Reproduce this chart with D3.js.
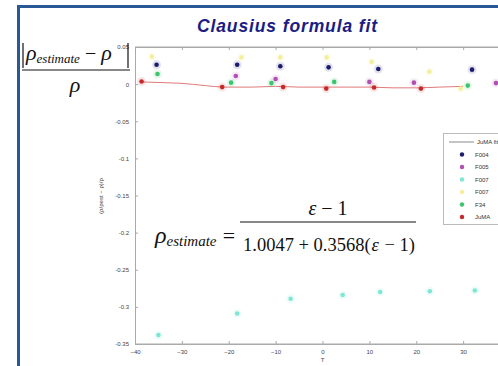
<!DOCTYPE html>
<html>
<head>
<meta charset="utf-8">
<script src="https://cdn.jsdelivr.net/npm/d3@7"></script>
<style>
  body { margin: 0; background: #fff; }
  svg { display: block; font-family: 'Liberation Sans', Arial, sans-serif; }
</style>
</head>
<body>
<div id="chart"></div>
<script>
// temperature ticks and relative error ticks
const xTicks = [-40, -30, -20, -10, 0, 10, 20, 30];
const yTicks = [0.05, 0, -0.05, -0.1, -0.15, -0.2, -0.25, -0.3, -0.35];
const yTickLabels = ['0.05', '0', '-0.05', '-0.1', '-0.15', '-0.2', '-0.25', '-0.3', '-0.35'];

// JuMA fit line
const fitT = [-38.6, -34, -30, -25, -21, -15, -10, -5, 0, 5, 10, 15, 20, 25, 30];
const fitErr = [0.003, 0.002, 0.001, -0.002, -0.004, -0.004, -0.003, -0.004, -0.004, -0.004, -0.004, -0.005, -0.005, -0.004, -0.003];

// measured series
const seriesNames = ['F004', 'F005', 'F007', 'F007', 'F34', 'JuMA'];
const seriesColors = ['#1c1c6e', '#b050b0', '#7fe6d2', '#f3ef9c', '#3cc46e', '#c42a2a'];

const tF004 = [-35.4, -18.2, -9.0, 1.3, 11.9, 31.9];
const eF004 = [0.026, 0.026, 0.024, 0.0226, 0.0204, 0.0195];

const tF005 = [-18.5, -10.0, 10.0, 19.5, 37.0];
const eF005 = [0.011, 0.007, 0.003, 0.002, 0.0014];

const tF007c = [-35.0, -18.2, -6.8, 4.3, 12.3, 22.9, 32.5];
const eF007c = [-0.338, -0.309, -0.289, -0.284, -0.280, -0.279, -0.278];

const tF007y = [-36.4, -17.3, -9.0, 0.9, 10.5, 22.8, 29.5];
const eF007y = [0.037, 0.036, 0.036, 0.036, 0.030, 0.0168, -0.006];

const tF34 = [-35.2, -19.5, -10.9, 2.5, 31.0];
const eF34 = [0.0136, 0.002, 0.0014, 0.003, -0.002];

const tJuMA = [-38.6, -21.4, -8.4, 0.8, 11.0, 21.0];
const eJuMA = [0.0035, -0.004, -0.004, -0.006, -0.0046, -0.006];

const width = 498;
const height = 366;

const x = d3.scaleLinear().domain([-40, 40]).range([135, 510]);
const y = d3.scaleLinear().domain([-0.35, 0.05]).range([344, 47]);

const svg = d3.select('#chart').append('svg')
  .attr('width', width)
  .attr('height', height);

svg.append('rect').attr('width', width).attr('height', height).attr('fill', '#fff');

// slide frame
svg.append('path')
  .attr('d', 'M18.5,370 L18.5,6.5 L505,6.5')
  .attr('fill', 'none')
  .attr('stroke', '#2a5896')
  .attr('stroke-width', 3);

// title
svg.append('text')
  .attr('x', 287).attr('y', 32)
  .attr('text-anchor', 'middle')
  .attr('textLength', 180)
  .style('font-size', '17.5px')
  .style('font-weight', 'bold')
  .style('font-style', 'italic')
  .style('fill', '#1c1c84')
  .text('Clausius formula fit');

// axes
const axisColor = '#aaa';
const frame = svg.append('g');
frame.append('line').attr('x1', x(-40)).attr('x2', width).attr('y1', y(-0.35)).attr('y2', y(-0.35)).attr('stroke', axisColor);
frame.append('line').attr('x1', x(-40)).attr('x2', width).attr('y1', y(0.05)).attr('y2', y(0.05)).attr('stroke', axisColor);

const xAxis = svg.append('g')
  .attr('transform', `translate(0,${y(-0.35)})`)
  .call(d3.axisBottom(x).tickValues(xTicks).tickSizeInner(-3).tickSizeOuter(0).tickPadding(6));
const xAxisTop = svg.append('g')
  .attr('transform', `translate(0,${y(0.05)})`)
  .call(d3.axisTop(x).tickValues(xTicks).tickSizeInner(-3).tickSizeOuter(0).tickFormat(''));
const yAxis = svg.append('g')
  .attr('transform', `translate(${x(-40)},0)`)
  .call(d3.axisLeft(y).tickValues(yTicks).tickSizeInner(-3).tickSizeOuter(0).tickPadding(6)
    .tickFormat((d, i) => yTickLabels[i]));

[xAxis, xAxisTop, yAxis].forEach(g => {
  g.select('.domain').attr('stroke', axisColor);
  g.selectAll('.tick line').attr('stroke', axisColor);
  g.selectAll('.tick text').style('font-size', '6px').style('fill', '#444');
});

// axis titles
svg.append('text')
  .attr('x', x(0)).attr('y', 362)
  .attr('text-anchor', 'middle')
  .style('font-size', '6px').style('fill', '#444')
  .text('T');
svg.append('text')
  .attr('transform', 'translate(103,196) rotate(-90)')
  .attr('text-anchor', 'middle')
  .style('font-size', '6px').style('fill', '#444')
  .text('(ρ/ρest − ρ)/ρ');

// fit line
const line = d3.line().curve(d3.curveMonotoneX).x(d => x(d[0])).y(d => y(d[1]));
svg.append('path')
  .datum(fitT.map((t, i) => [t, fitErr[i]]))
  .attr('d', line)
  .attr('fill', 'none')
  .attr('stroke', '#e07a7a')
  .attr('stroke-width', 1);

// points
const seriesT = [tF004, tF005, tF007c, tF007y, tF34, tJuMA];
const seriesE = [eF004, eF005, eF007c, eF007y, eF34, eJuMA];

seriesT.forEach((ts, s) => {
  const pts = ts.map((t, i) => [t, seriesE[s][i]]);
  const g = svg.append('g');
  g.selectAll('circle.halo')
    .data(pts)
    .join('circle')
    .attr('class', 'halo')
    .attr('cx', d => x(d[0])).attr('cy', d => y(d[1]))
    .attr('r', 4.5)
    .attr('fill', seriesColors[s])
    .attr('opacity', 0.12);
  g.selectAll('circle.dot')
    .data(pts)
    .join('circle')
    .attr('class', 'dot')
    .attr('cx', d => x(d[0])).attr('cy', d => y(d[1]))
    .attr('r', 2.3)
    .attr('fill', seriesColors[s]);
});

// legend
const legend = svg.append('g');
legend.append('rect')
  .attr('x', 443.5).attr('y', 133.5)
  .attr('width', 70).attr('height', 91)
  .attr('fill', '#fff')
  .attr('stroke', '#bbb');
legend.append('line')
  .attr('x1', 449).attr('x2', 474).attr('y1', 142).attr('y2', 142)
  .attr('stroke', '#8a8a8a');
legend.append('text')
  .attr('x', 477).attr('y', 144)
  .style('font-size', '6px').style('fill', '#333')
  .text('JuMA fit');
seriesNames.forEach((name, i) => {
  const ry = 154.5 + i * 12.5;
  legend.append('circle')
    .attr('cx', 462).attr('cy', ry).attr('r', 2.2)
    .attr('fill', seriesColors[i]);
  legend.append('text')
    .attr('x', 475).attr('y', ry + 2)
    .style('font-size', '6px').style('fill', '#333')
    .text(name);
});

// formulas
const serif = "'Liberation Serif', 'Times New Roman', serif";

// left relative error
const lf = svg.append('g').style('font-family', serif).style('fill', '#111');
lf.append('line').attr('x1', 23).attr('x2', 23).attr('y1', 43).attr('y2', 68).attr('stroke', '#111').attr('stroke-width', 1.2);
lf.append('line').attr('x1', 128).attr('x2', 128).attr('y1', 43).attr('y2', 68).attr('stroke', '#111').attr('stroke-width', 1.2);
lf.append('line').attr('x1', 22).attr('x2', 130).attr('y1', 70).attr('y2', 70).attr('stroke', '#111').attr('stroke-width', 1);
const num = lf.append('text').attr('x', 26).attr('y', 60).style('font-style', 'italic');
num.append('tspan').style('font-size', '22px').text('ρ');
num.append('tspan').style('font-size', '13px').attr('dy', 3).text('estimate');
num.append('tspan').style('font-size', '20px').style('font-style', 'normal').attr('dy', -3).text(' − ');
num.append('tspan').style('font-size', '22px').text('ρ');
lf.append('text').attr('x', 75).attr('y', 92).attr('text-anchor', 'middle')
  .style('font-style', 'italic').style('font-size', '22px').text('ρ');

// Clausius estimate
const mf = svg.append('g').style('font-family', serif).style('fill', '#111');
const lhs = mf.append('text').attr('x', 155).attr('y', 243).style('font-style', 'italic');
lhs.append('tspan').style('font-size', '24px').text('ρ');
lhs.append('tspan').style('font-size', '15px').attr('dy', 3).text('estimate');
mf.append('text').attr('x', 229).attr('y', 243).attr('text-anchor', 'middle').style('font-size', '22px').text('=');
mf.append('line').attr('x1', 240).attr('x2', 416).attr('y1', 222).attr('y2', 222).attr('stroke', '#111').attr('stroke-width', 1);
const numer = mf.append('text').attr('x', 328).attr('y', 215).attr('text-anchor', 'middle').style('font-size', '20px');
numer.append('tspan').style('font-style', 'italic').text('ε');
numer.append('tspan').text(' − 1');
const denom = mf.append('text').attr('x', 243).attr('y', 251).style('font-size', '18.5px');
denom.append('tspan').text('1.0047 + 0.3568(');
denom.append('tspan').attr('dx', 1).style('font-style', 'italic').text('ε');
denom.append('tspan').attr('dx', 1).text(' − 1)');
</script>
</body>
</html>
